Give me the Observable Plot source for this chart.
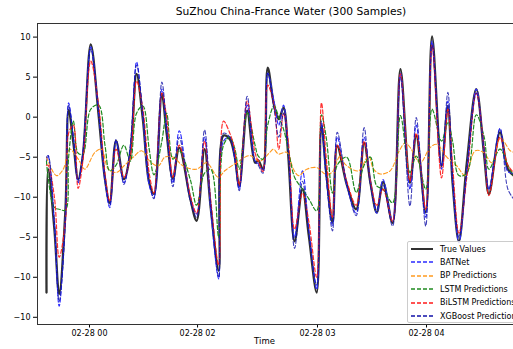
<!DOCTYPE html>
<html>
<head>
<meta charset="utf-8">
<script src="https://cdn.jsdelivr.net/npm/d3@7"></script>
<script src="https://cdn.jsdelivr.net/npm/@observablehq/plot@0.6"></script>
<style>
  body { margin: 0; background: #fff; overflow: hidden; }
  #wrap { position: relative; width: 513px; height: 349px; overflow: hidden; font-family: "DejaVu Sans", sans-serif; }
  #chart svg { max-width: none !important; display: block; }
  #title { position: absolute; left: 0; width: 582px; top: 5px; text-align: center; font-size: 10.7px; color: #000; white-space: nowrap; }
  #xlabel { position: absolute; left: 224px; width: 81px; top: 336px; text-align: center; font-size: 8.5px; color: #000; }
  #legend { position: absolute; left: 407px; top: 241px; width: 130px; height: 80px; background: rgba(255,255,255,0.85); border: 1px solid #ccc; border-radius: 2px; font-size: 8px; }
  .item { position: absolute; left: 2px; height: 10px; display: flex; align-items: center; white-space: nowrap; }
  .item svg { margin-right: 6px; }
</style>
</head>
<body>
<div id="wrap">
  <div id="chart"></div>
  <div id="title">SuZhou China-France Water (300 Samples)</div>
  <div id="xlabel">Time</div>
  <div id="legend"></div>
</div>
<script>
const sampleIdx = [0,1,5,8,12,14,17,20,23,28,33,37,40,44,49,53,57,61,65,68,73,76,80,84,91,95,100,104,109,112,116,119,122,127,132,134,137,140,144,147,150,153,157,162,166,171,174,177,181,184,190,196,201,205,209,213,219,224,230,234,240,244,250,254,257,261,266,272,277,280,287,292,296];
const trueValues = [-21.9,-6.5,-14,-22.1,-11.5,0.9,-3.2,-7.75,-4.8,9.1,0.2,-7.75,-10.7,-2.95,-7.75,-4.5,5.4,-0.3,-8.2,-9.6,2.9,-2,-7.7,-3.8,-10.2,-12.95,-4.0,-11.5,-19.2,-2.3,-2.75,-4.8,-8.6,0.8,-5.7,-5.4,-6.5,6.2,1.5,-0.25,1.2,-4.85,-15.5,-9.0,-14.8,-21.9,-1.1,-6.9,-13.2,-3.6,-8.4,-11.5,-3.2,-8.2,-11.9,-8.1,-13.2,6.0,-8.2,-2.3,-11.9,10.1,-6.1,1.4,-8.2,-15.5,-5.7,3.5,-4.85,-9.6,-1.9,-6.5,-7.35];
const batnet = [-5.5,-4.8,-13.5,-23.6,-12.0,1.8,-2.5,-8.2,-4.5,8.8,0.5,-8.0,-11.3,-3.0,-8.2,-4.0,6.9,0.0,-8.5,-10.0,3.5,-1.5,-8.2,-1.7,-10.0,-12.1,-2.5,-11.8,-20.2,-3.0,-2.5,-5.0,-9.0,1.5,-5.5,-5.8,-6.6,5.5,2.0,-1.0,1.5,-4.0,-15.0,-6.7,-14.0,-21.5,-1.0,-7.5,-13.5,-2.5,-8.5,-12.0,-2.5,-8.0,-12.0,-7.8,-13.0,5.5,-9.0,-1.0,-12.5,9.5,-6.5,2.0,-8.0,-15.7,-6.5,3.5,-4.5,-9.0,-1.4,-6.8,-7.0];
const xgboost = [-5.0,-4.8,-13.0,-23.0,-13.0,1.5,-2.5,-8.0,-4.5,8.5,0.8,-7.5,-11.0,-2.8,-8.4,-3.5,6.5,0.5,-8.0,-10.2,4.4,-1.2,-8.7,-2.5,-10.5,-12.5,-1.6,-11.0,-20.0,-2.0,-2.5,-5.0,-9.2,2.6,-5.5,-6.0,-7.0,5.5,1.0,-2.5,0.5,-4.0,-16.4,-8.0,-14.5,-21.0,-0.5,-7.5,-14.2,-1.9,-8.3,-12.3,-1.3,-8.5,-11.5,-8.5,-13.6,5.0,-11.1,-0.05,-13.6,9.0,-6.0,3.1,-7.5,-15.0,-7.0,3.0,-4.0,-9.0,-1.5,-9.0,-10.3];
const bilstm = [-6.0,-6.0,-10.0,-17.5,-13.0,-2.0,-1.0,-8.9,-5.5,7.0,1.5,-7.0,-10.5,-4.0,-7.5,-5.0,4.5,1.0,-7.0,-9.5,3.0,0.0,-7.5,-3.5,-9.8,-12.0,-3.0,-10.5,-18.5,-0.5,-2.0,-4.0,-8.5,2.0,-4.5,-5.5,-6.8,4.0,1.5,-4.0,0.5,-3.0,-14.0,-9.5,-13.0,-20.0,1.8,-5.0,-12.5,-3.5,-8.0,-11.0,-3.0,-8.0,-11.0,-9.0,-13.0,5.4,-8.0,-2.0,-11.5,9.0,-7.6,1.0,-6.0,-14.5,-7.5,3.0,-4.0,-9.8,-2.5,-6.0,-7.0];
const lstm = [-5.5,-7.5,-11.3,-11.5,-11.6,-5.0,-0.5,-4.5,-4.6,1.0,1.5,-3.5,-6.7,-6.0,-3.5,-5.5,0.5,1.4,-4.0,-7.2,-3.0,0.5,-5.25,-4.2,-7.8,-11.0,-7.0,-6.5,-15.0,-3.5,-2.5,-3.8,-6.5,0.5,-3.5,-4.85,-5.25,-1.0,1.4,0.0,-1.5,-4.0,-7.5,-9.0,-10.2,-11.7,0.3,-2.5,-9.5,-6.0,-5.0,-9.4,-6.0,-5.0,-8.6,-9.0,-10.7,0.2,-6.9,-4.85,-9.0,1.0,-3.0,-0.7,-3.0,-7.3,-7.0,0.3,-2.5,-6.5,-4.0,-6.0,-7.5];
const bpIdx = [0,6.3,10.6,14.7,20.1,24.2,30.6,34.8,39.1,44.3,48.9,54.9,60.1,65.4,70.7,74.9,80.2,86.5,94.9,101.3,108.7,112.8,120.3,128.7,135,141.3,143.7,146.8,152.1,156.3,159.5,164.7,171.1,176.4,180.6,185.9,189.1,197.5,203.8,207,211.2,217.5,222.8,227,230.2,236.5,242.8,247,253.4,259.7,265,271.3,276.6,281.8,287.2,293.5,296];
const bpValues = [-5.0,-7.3,-6.5,-4.0,-5.25,-6.5,-4.4,-4.0,-6.5,-6.9,-6.1,-5.0,-4.2,-5.5,-6.1,-5.0,-5.0,-6.1,-6.5,-5.7,-7.5,-6.7,-5.7,-4.8,-5.5,-4.4,-4.0,-4.6,-4.4,-6.5,-7.3,-6.5,-6.3,-7.1,-6.9,-4.85,-5.9,-6.7,-4.85,-6.5,-7.1,-6.7,-4.4,-3.2,-3.8,-5.7,-3.8,-3.4,-5.0,-6.1,-7.3,-4.2,-4.4,-5.7,-2.6,-4.2,-4.4];

const yTicks = [10, 5, 0, -5, -10, -15, -20, -25];
const yTickLabels = ["10", "5", "0", "\u22125", "\u221210", "\u22125", "\u221210", "\u221210"];
const xTicks = [27.2, 95.6, 171.5, 240.5];
const xTickLabels = ["02-28 00", "02-28 02", "02-28 03", "02-28 04"];

const seriesNames = ["True Values", "BATNet", "BP Predictions", "LSTM Predictions", "BiLSTM Predictions", "XGBoost Predictions"];
const seriesColors = ["#1a1a1a", "#2a2aff", "#ff9a1f", "#1f8a1f", "#ff1a1a", "#1010a8"];

const mk = (xs, ys) => xs.map((x, i) => ({x, y: ys[i]}));
const dash = "4,2.2";
const common = {x: "x", y: "y", curve: "catmull-rom", clip: true};

const plot = Plot.plot({
  width: 545, height: 349,
  marginLeft: 37, marginRight: 0, marginTop: 23, marginBottom: 25,
  style: {fontFamily: "DejaVu Sans, sans-serif", fontSize: "8px", color: "#000", background: "transparent", maxWidth: "none"},
  x: {domain: [-5.7, 315.8], ticks: xTicks, tickFormat: (d) => xTickLabels[xTicks.indexOf(d)], tickSize: 3.5, tickPadding: 2, label: null},
  y: {domain: [-25.9, 11.7], ticks: yTicks, tickFormat: (d) => yTickLabels[yTicks.indexOf(d)], tickSize: 4, tickPadding: 3, label: null},
  marks: [
    Plot.line(mk(sampleIdx, trueValues), {...common, stroke: seriesColors[0], strokeWidth: 2.3, strokeOpacity: 0.9}),
    Plot.line(mk(sampleIdx, batnet), {...common, stroke: seriesColors[1], strokeWidth: 1.1, strokeDasharray: dash}),
    Plot.line(mk(bpIdx, bpValues), {...common, stroke: seriesColors[2], strokeWidth: 1.1, strokeDasharray: dash}),
    Plot.line(mk(sampleIdx, lstm), {...common, stroke: seriesColors[3], strokeWidth: 1.2, strokeDasharray: dash}),
    Plot.line(mk(sampleIdx, bilstm), {...common, stroke: seriesColors[4], strokeWidth: 1.2, strokeDasharray: dash, strokeOpacity: 0.9}),
    Plot.line(mk(sampleIdx, xgboost), {...common, stroke: seriesColors[5], strokeWidth: 1.1, strokeDasharray: dash, strokeOpacity: 0.8}),
    Plot.frame({stroke: "#333", strokeWidth: 1})
  ]
});
document.getElementById("chart").appendChild(plot);

const legend = document.getElementById("legend");
seriesNames.forEach((name, i) => {
  const item = document.createElement("div");
  item.className = "item";
  item.style.top = (2 + i * 13.4) + "px";
  const da = i === 0 ? "" : `stroke-dasharray="4,2"`;
  const sw = i === 0 ? 1.8 : 1.3;
  item.innerHTML = `<svg width="24" height="10"><line x1="1" x2="23" y1="5" y2="5" stroke="${seriesColors[i]}" stroke-width="${sw}" ${da}/></svg><span>${name}</span>`;
  legend.appendChild(item);
});
</script>
</body>
</html>
